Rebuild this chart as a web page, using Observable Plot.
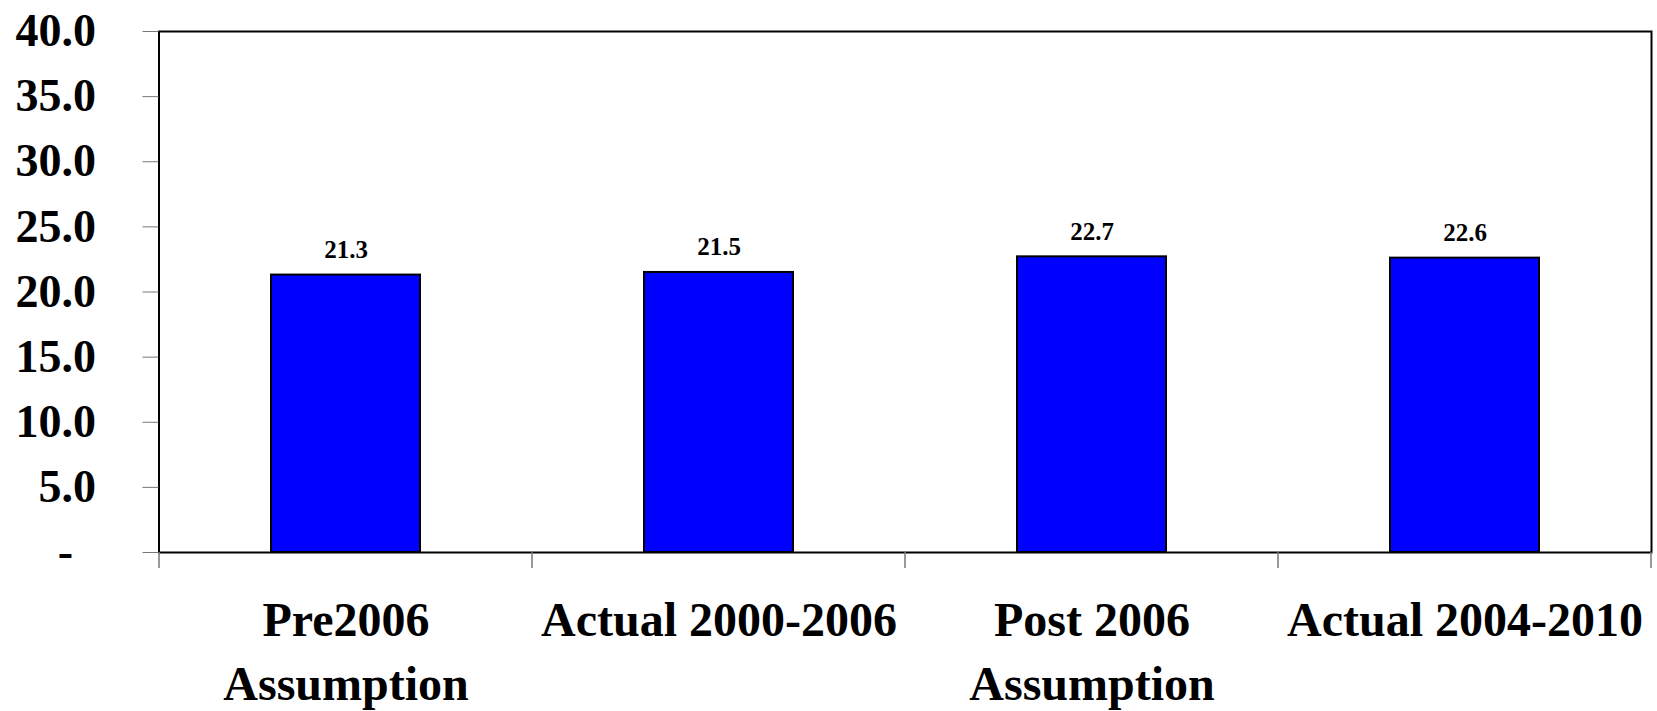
<!DOCTYPE html>
<html>
<head>
<meta charset="utf-8">
<script src="https://cdn.jsdelivr.net/npm/d3@7"></script>
<script src="https://cdn.jsdelivr.net/npm/@observablehq/plot@0.6"></script>
<style>
  html, body { margin: 0; padding: 0; background: #fff; }
</style>
</head>
<body>
<div id="chart"></div>
<script>
const categories = ["Pre2006\nAssumption", "Actual 2000-2006", "Post 2006\nAssumption", "Actual 2004-2010"];
const values = [21.3, 21.5, 22.7, 22.6];
const yTicks = [0, 5, 10, 15, 20, 25, 30, 35, 40];

const data = categories.map((c, i) => ({category: c, value: values[i]}));

const boundaryTicks = (index, scales, vals, dims, context) => {
  const x = scales.x;
  const step = x.step();
  const bw = x.bandwidth();
  const dom = x.domain();
  const xs = dom.map(d => x(d) + bw / 2 - step / 2);
  xs.push(x(dom[dom.length - 1]) + bw / 2 + step / 2);
  const y0 = dims.height - dims.marginBottom;
  const g = d3.create("svg:g");
  g.selectAll("line").data(xs).join("line")
    .attr("x1", d => d).attr("x2", d => d)
    .attr("y1", y0).attr("y2", y0 + 16)
    .attr("stroke", "#777").attr("stroke-width", 1.5);
  return g.node();
};

const chart = Plot.plot({
  width: 1657,
  height: 711,
  marginLeft: 158.5,
  marginRight: 6,
  marginTop: 31,
  marginBottom: 159,
  style: {fontFamily: "'Liberation Serif', serif", fontWeight: "bold", background: "#fff", color: "#000"},
  x: {domain: categories, paddingInner: 0.6, paddingOuter: 0.3},
  y: {domain: [0, 40]},
  marks: [
    Plot.barY(data, {x: "category", y: "value", fill: "#0000FF", stroke: "#000", strokeWidth: 2}),
    Plot.frame({stroke: "#000", strokeWidth: 2}),
    Plot.text(data, {x: "category", y: "value", text: d => d.value.toFixed(1), lineAnchor: "bottom", dy: -17, fontSize: 25, fontWeight: "bold", fill: "#000"}),
    Plot.axisY({ticks: yTicks, tickFormat: d => d === 0 ? "-\u2007" : d.toFixed(1), tickSize: 16, tickPadding: 47, fontSize: 46, fontWeight: "bold", stroke: "#777", fill: "#000", label: null}),
    Plot.axisX({tickSize: 0, tickPadding: 38, fontSize: 48, fontWeight: "bold", lineHeight: 1.33, fill: "#000", label: null}),
    boundaryTicks
  ]
});
document.getElementById("chart").appendChild(chart);
</script>
</body>
</html>
